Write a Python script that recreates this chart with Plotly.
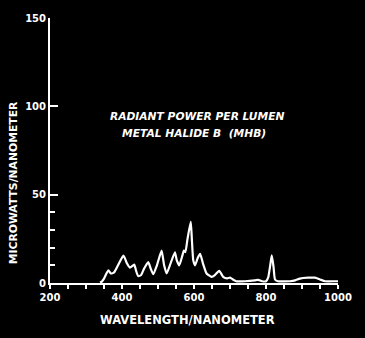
import plotly.graph_objects as go

# Spectrum (wavelength nm -> microwatts/nanometer)
wavelength = [339, 344, 350, 362, 369, 378, 389, 404, 414, 422, 434, 439, 445, 453, 461,
              473, 480, 487, 497, 510, 517, 524, 533, 547, 552, 559, 567, 572, 576, 582,
              591, 594, 598, 603, 610, 617, 625, 635, 649, 658, 670, 681, 692, 700, 708,
              717, 742, 769, 778, 789, 800, 806, 811, 816, 821, 825, 833, 867, 881, 894,
              917, 936, 950, 964, 992, 1000]
power = [0.3, 0.8, 2.5, 7.2, 5.4, 6.0, 10.0, 15.5, 11.0, 8.7, 10.4, 7.0, 3.9, 4.5, 8.0,
         11.8, 8.0, 5.0, 10.0, 18.3, 10.0, 5.4, 10.0, 17.4, 13.0, 10.0, 15.0, 18.3, 17.5, 25.0,
         34.6, 25.0, 12.8, 10.0, 14.0, 16.5, 11.0, 5.4, 3.5, 4.5, 6.9, 3.5, 2.6, 3.0, 2.0,
         1.0, 1.0, 1.5, 1.8, 1.0, 1.0, 3.0, 9.0, 15.6, 9.0, 2.0, 1.0, 1.0, 1.5, 2.5,
         3.0, 3.0, 2.0, 1.0, 1.0, 1.0]

x_label_ticks = [200, 400, 600, 800, 1000]
y_label_ticks = [0, 50, 100, 150]
y_minor_ticks = [10, 20, 30, 40]

title_lines = ["RADIANT POWER PER LUMEN", "METAL HALIDE B  (MHB)"]
x_title = "WAVELENGTH/NANOMETER"
y_title = "MICROWATTS/NANOMETER"

FONT = "DejaVu Sans, Liberation Sans, sans-serif"
WHITE = "#ffffff"

fig = go.Figure()
fig.add_trace(go.Scatter(
    x=wavelength, y=power, mode="lines",
    line=dict(color=WHITE, width=2.2, shape="spline", smoothing=0.5),
    hoverinfo="skip", showlegend=False,
))
# invisible trace to activate overlay axis for minor y ticks
fig.add_trace(go.Scatter(x=[200], y=[0], yaxis="y2", mode="markers",
                         marker=dict(opacity=0), showlegend=False, hoverinfo="skip"))

fig.update_layout(
    width=365, height=338,
    margin=dict(l=50, r=27, t=15, b=55),
    paper_bgcolor="black", plot_bgcolor="black",
    font=dict(family=FONT, color=WHITE, size=10),
    xaxis=dict(
        range=[200, 1000], showgrid=False, zeroline=False,
        showline=True, linecolor=WHITE, linewidth=2,
        tickmode="array", tickvals=x_label_ticks,
        ticks="outside", ticklen=4, tickwidth=2, tickcolor=WHITE,
        tickfont=dict(family=FONT, size=10, color=WHITE, weight="bold"),
        minor=dict(dtick=50, ticks="outside", ticklen=4, tickwidth=2, tickcolor=WHITE),
    ),
    yaxis=dict(
        range=[0, 150], showgrid=False, zeroline=False,
        showline=True, linecolor=WHITE, linewidth=2,
        tickmode="array", tickvals=y_label_ticks,
        ticks="inside", ticklen=8, tickwidth=2, tickcolor=WHITE,
        tickfont=dict(family=FONT, size=10, color=WHITE, weight="bold"),
    ),
    yaxis2=dict(
        range=[0, 150], overlaying="y", side="left", showgrid=False, zeroline=False,
        showline=False, tickmode="array", tickvals=y_minor_ticks,
        ticks="inside", ticklen=5, tickwidth=2, tickcolor=WHITE, showticklabels=False,
    ),
)

fig.add_annotation(x=607, y=94, xref="x", yref="y", text=title_lines[0], showarrow=False,
                   font=dict(family=FONT, size=10.7, color=WHITE, weight="bold", style="italic"))
fig.add_annotation(x=599, y=84.4, xref="x", yref="y", text=title_lines[1], showarrow=False,
                   font=dict(family=FONT, size=10.7, color=WHITE, weight="bold", style="italic"))
fig.add_annotation(x=0.476, y=-0.138, xref="paper", yref="paper", text=x_title,
                   xanchor="center", yanchor="middle",
                   showarrow=False, font=dict(family=FONT, size=11.5, color=WHITE, weight="bold"))
fig.add_annotation(x=-0.128, y=0.377, xref="paper", yref="paper", text=y_title,
                   xanchor="center", yanchor="middle",
                   textangle=-90, showarrow=False,
                   font=dict(family=FONT, size=10.8, color=WHITE, weight="bold"))

fig.write_html("out.html")
